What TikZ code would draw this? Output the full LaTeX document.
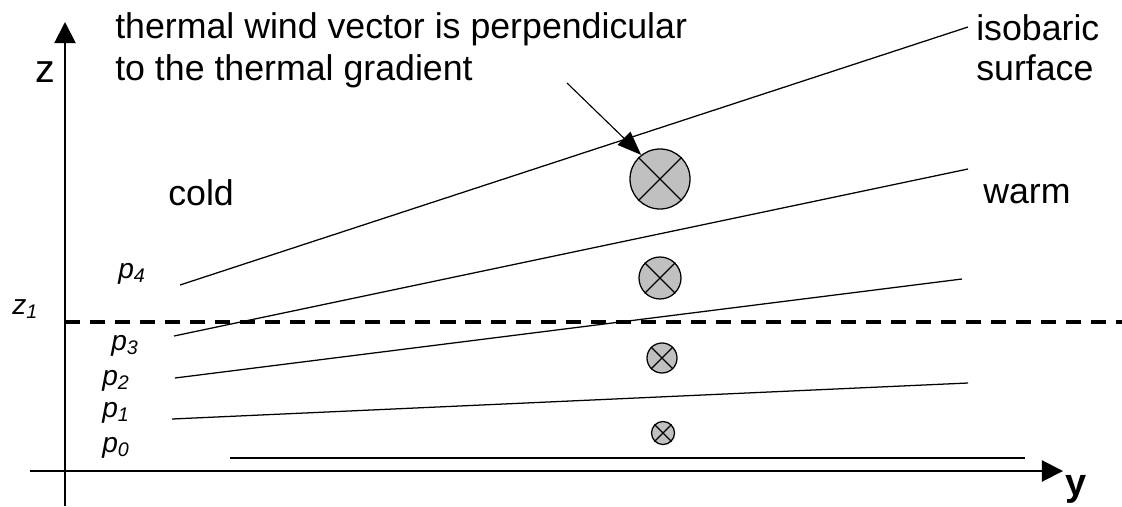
\documentclass[tikz,border=0pt]{standalone}
\usepackage{fontspec}
\setmainfont{Liberation Sans}
\usetikzlibrary{arrows.meta}
\definecolor{circgray}{HTML}{C0C0C0}
\tikzset{
  axis/.style={line width=1.4pt,-{Triangle[length=15pt,width=15pt]}},
  isobar/.style={line width=0.9pt},
  lbl/.style={inner sep=0pt,font=\fontsize{25.4}{30}\selectfont},
  plbl/.style={inner sep=0pt,font=\fontsize{20}{24}\selectfont\itshape},
  windsym/.style={circle,draw,line width=0.9pt,fill=circgray,inner sep=0pt},
  leader/.style={line width=0.8pt,-{Triangle[length=17pt,width=13pt]}}
}
\newcommand{\windx}[1]{%
  \draw[line width=0.9pt] (#1.45) -- (#1.225);
  \draw[line width=0.9pt] (#1.135) -- (#1.315);
}
\begin{document}
\begin{tikzpicture}[x=0.025cm,y=-0.025cm]
\path[use as bounding box] (0,0) rectangle (1122,506);
% axes
\coordinate (zbot) at (65,506);
\coordinate (ztop) at (65,22);
\coordinate (yleft) at (30,471);
\coordinate (yright) at (1063,471);
\draw[axis] (zbot) -- (ztop);
\draw[axis] (yleft) -- (yright);
\node[lbl,anchor=base,font=\fontsize{28}{30}\selectfont] (zl) at (45,82) {z};
\node[lbl,anchor=base,font=\fontsize{27}{30}\selectfont\bfseries] (yl) at (1076,495) {y};
% dashed z1 level
\coordinate (d1) at (65,322);
\coordinate (d2) at (1122,322);
\draw[line width=2.2pt,dash pattern=on 10.7pt off 7.1pt] (d1) -- (d2);
\node[plbl,anchor=base west] (z1) at (12,314) {z\textsubscript{1}};
% isobars
\coordinate (a1) at (180,285); \coordinate (a2) at (968,27);
\coordinate (b1) at (174,336); \coordinate (b2) at (968,169);
\coordinate (c1) at (175,378); \coordinate (c2) at (962,279);
\coordinate (e1) at (172,419); \coordinate (e2) at (968,383);
\coordinate (f1) at (230,458); \coordinate (f2) at (1025,458);
\draw[isobar] (a1) -- (a2);
\draw[isobar] (b1) -- (b2);
\draw[isobar] (c1) -- (c2);
\draw[isobar] (e1) -- (e2);
\draw[isobar] (f1) -- (f2);
% p labels
\node[plbl,anchor=base west] (p4) at (118,278) {p\textsubscript{4}};
\node[plbl,anchor=base west] (p3) at (111,350) {p\textsubscript{3}};
\node[plbl,anchor=base west] (p2) at (102,385) {p\textsubscript{2}};
\node[plbl,anchor=base west] (p1) at (102,417) {p\textsubscript{1}};
\node[plbl,anchor=base west] (p0) at (102,452) {p\textsubscript{0}};
% texts
\node[lbl,anchor=base west] (t1) at (115,38) {thermal wind vector is perpendicular};
\node[lbl,anchor=base west] (t2) at (115,80) {to the thermal gradient};
\node[lbl,anchor=base west] (iso1) at (976,40) {isobaric};
\node[lbl,anchor=base west] (iso2) at (976,80) {surface};
\node[lbl,anchor=base west] (cold) at (168,205) {cold};
\node[lbl,anchor=base west] (warm) at (983,203) {warm};
% wind symbols
\node[windsym,minimum size=1.5cm] (w4) at (660,179) {};
\node[windsym,minimum size=1.05cm] (w3) at (660,278) {};
\node[windsym,minimum size=0.75cm] (w2) at (662,358) {};
\node[windsym,minimum size=0.575cm] (w1) at (663,433) {};
\windx{w4}\windx{w3}\windx{w2}\windx{w1}
% leader arrow
\coordinate (lstart) at (567,83);
\draw[leader] (lstart) -- (w4.128);
\end{tikzpicture}
\end{document}
